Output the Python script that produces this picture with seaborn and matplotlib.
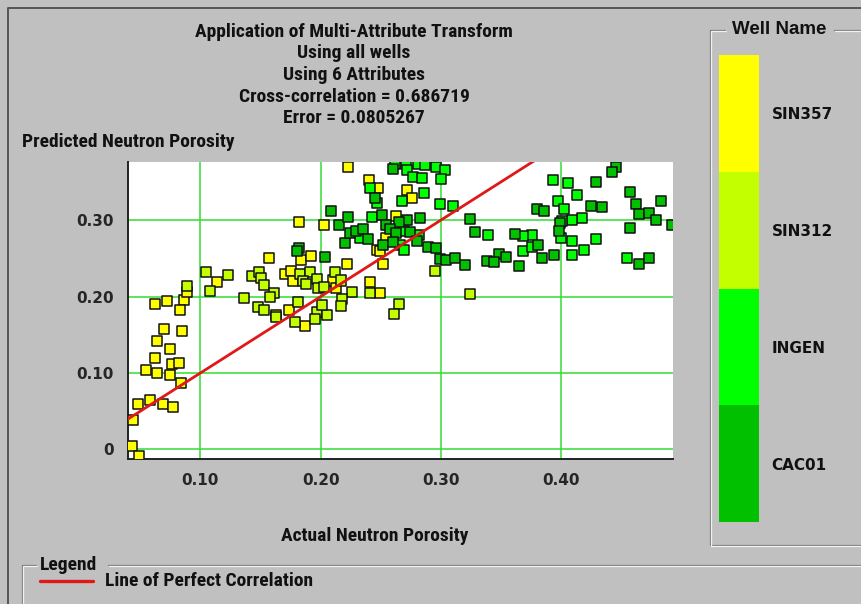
import matplotlib
matplotlib.use("Agg")
import matplotlib.pyplot as plt
from matplotlib import font_manager
from matplotlib.font_manager import FontProperties
from matplotlib.colors import ListedColormap
from matplotlib.lines import Line2D
from matplotlib.ticker import MultipleLocator, FixedLocator
import numpy as np
import pandas as pd
import seaborn as sns

# ---------------------------------------------------------------- data
well_names = ["SIN357", "SIN312", "INGEN", "CAC01"]
well_colors = ["#ffff00", "#c4ff00", "#00ff00", "#00c000"]

sin357_actual = [0.182, 0.184, 0.157, 0.114, 0.086, 0.072, 0.062, 0.083, 0.089, 0.163,
                 0.170, 0.175, 0.177, 0.174, 0.192, 0.187, 0.210, 0.213, 0.203, 0.222,
                 0.247, 0.241, 0.223, 0.240, 0.248, 0.272, 0.276, 0.263, 0.254, 0.249,
                 0.252, 0.249, 0.085, 0.070, 0.064, 0.062, 0.075, 0.076, 0.082, 0.055,
                 0.064, 0.075, 0.084, 0.048, 0.058, 0.069, 0.077, 0.044, 0.043, 0.049]
sin357_pred = [0.298, 0.248, 0.250, 0.219, 0.196, 0.194, 0.190, 0.183, 0.206, 0.176,
               0.230, 0.233, 0.220, 0.182, 0.253, 0.161, 0.221, 0.211, 0.294, 0.242,
               0.261, 0.219, 0.369, 0.353, 0.342, 0.340, 0.329, 0.306, 0.276, 0.259,
               0.242, 0.205, 0.155, 0.158, 0.142, 0.120, 0.131, 0.112, 0.113, 0.104,
               0.100, 0.098, 0.087, 0.059, 0.065, 0.059, 0.056, 0.039, 0.004, -0.009]

sin312_actual = [0.105, 0.123, 0.108, 0.136, 0.143, 0.149, 0.150, 0.153, 0.161, 0.158,
                 0.148, 0.153, 0.183, 0.191, 0.185, 0.188, 0.197, 0.198, 0.181, 0.197,
                 0.163, 0.179, 0.195, 0.203, 0.212, 0.217, 0.226, 0.218, 0.217, 0.205,
                 0.201, 0.241, 0.295, 0.324, 0.265, 0.261, 0.089]
sin312_pred = [0.232, 0.228, 0.207, 0.198, 0.227, 0.232, 0.224, 0.215, 0.205, 0.200,
               0.186, 0.183, 0.230, 0.232, 0.220, 0.217, 0.223, 0.211, 0.193, 0.180,
               0.173, 0.167, 0.171, 0.212, 0.232, 0.221, 0.206, 0.197, 0.187, 0.176,
               0.189, 0.204, 0.233, 0.203, 0.190, 0.177, 0.214]

ingen_actual = [0.243, 0.262, 0.271, 0.281, 0.287, 0.296, 0.303, 0.272, 0.277, 0.284,
                0.300, 0.241, 0.286, 0.247, 0.268, 0.299, 0.310, 0.233, 0.269, 0.282,
                0.266, 0.269, 0.339, 0.406, 0.393, 0.413, 0.397, 0.402, 0.417, 0.409,
                0.401, 0.400, 0.409, 0.429, 0.419, 0.409, 0.368, 0.376, 0.376, 0.368,
                0.455]
ingen_pred = [0.304, 0.374, 0.374, 0.374, 0.372, 0.369, 0.366, 0.366, 0.357, 0.355,
              0.354, 0.342, 0.336, 0.323, 0.325, 0.321, 0.319, 0.277, 0.286, 0.280,
              0.268, 0.261, 0.280, 0.348, 0.353, 0.333, 0.325, 0.315, 0.303, 0.300,
              0.299, 0.277, 0.273, 0.275, 0.261, 0.254, 0.260, 0.265, 0.281, 0.279,
              0.250]

cac01_actual = [0.182, 0.180, 0.204, 0.209, 0.215, 0.223, 0.220, 0.224, 0.229, 0.235,
                0.239, 0.260, 0.245, 0.251, 0.272, 0.265, 0.283, 0.254, 0.258, 0.263,
                0.274, 0.280, 0.289, 0.296, 0.252, 0.260, 0.324, 0.328, 0.348, 0.299,
                0.304, 0.312, 0.320, 0.338, 0.446, 0.442, 0.429, 0.380, 0.386, 0.425,
                0.434, 0.457, 0.462, 0.465, 0.473, 0.479, 0.483, 0.492, 0.457, 0.399,
                0.398, 0.394, 0.384, 0.381, 0.362, 0.365, 0.354, 0.344, 0.465, 0.473]
cac01_pred = [0.264, 0.260, 0.252, 0.312, 0.294, 0.304, 0.270, 0.283, 0.286, 0.288,
              0.275, 0.367, 0.329, 0.307, 0.300, 0.298, 0.303, 0.294, 0.288, 0.283,
              0.284, 0.273, 0.265, 0.263, 0.267, 0.271, 0.302, 0.284, 0.256, 0.249,
              0.248, 0.251, 0.241, 0.246, 0.369, 0.363, 0.350, 0.315, 0.312, 0.319,
              0.317, 0.337, 0.321, 0.308, 0.309, 0.300, 0.325, 0.294, 0.290, 0.296,
              0.286, 0.254, 0.250, 0.267, 0.282, 0.240, 0.252, 0.245, 0.242, 0.250]

perfect_line = [0.0, 0.5]

x_ticks = [0.10, 0.20, 0.30, 0.40]
x_tick_labels = ["0.10", "0.20", "0.30", "0.40"]
y_ticks = [0.0, 0.10, 0.20, 0.30]
y_tick_labels = ["0", "0.10", "0.20", "0.30"]

title_lines = ["Application of Multi-Attribute Transform",
               "Using all wells",
               "Using 6 Attributes",
               "Cross-correlation = 0.686719",
               "Error = 0.0805267"]
y_title = "Predicted Neutron Porosity"
x_title = "Actual Neutron Porosity"
legend_entry = "Line of Perfect Correlation"

# ---------------------------------------------------------------- fonts
sns.set_style("white")
plt.rcParams["font.family"] = ["DejaVu Sans"]


def _is_bold(entry):
    w = entry.weight
    if isinstance(w, str):
        return w in ("bold", "demibold", "semibold", "heavy", "extra bold", "black")
    return w >= 600


def narrow_bold_font():
    """Find a condensed bold face; prefer well-known families."""
    preferred = ["liberation sans narrow", "roboto condensed", "open sans condensed",
                 "noto sans condensed", "dejavu sans condensed", "dejavu sans"]
    found = []
    for f in font_manager.fontManager.ttflist:
        nm = f.name.lower()
        fn = f.fname.lower()
        narrow = ("narrow" in nm or "condensed" in nm or "condensed" in str(f.stretch)
                  or "condensed" in fn or "narrow" in fn)
        if narrow and _is_bold(f) and "italic" not in fn and "oblique" not in fn:
            found.append(f)
    if not found:
        return None
    def rank(f):
        nm = f.name.lower()
        for i, p in enumerate(preferred):
            if nm.startswith(p):
                return i
        return len(preferred)
    found.sort(key=rank)
    return found[0].fname


_narrow_path = narrow_bold_font()
if _narrow_path:
    NARROW = dict(fontproperties=FontProperties(fname=_narrow_path, size=14))
    NARROW_SIZE = 14
else:
    NARROW = dict(fontproperties=FontProperties(family="Liberation Sans",
                                                weight="bold", size=11.5))
    NARROW_SIZE = 11.5

BG = "#c0c0c0"
W, H = 862, 604


def fx(px):
    return px / W


def fy(py):
    return 1 - py / H


fig = plt.figure(figsize=(W / 100, H / 100), dpi=100, facecolor=BG)

# ---------------------------------------------------------------- scatter
df = pd.concat([
    pd.DataFrame({"actual": sin357_actual, "predicted": sin357_pred, "well": "SIN357"}),
    pd.DataFrame({"actual": sin312_actual, "predicted": sin312_pred, "well": "SIN312"}),
    pd.DataFrame({"actual": ingen_actual, "predicted": ingen_pred, "well": "INGEN"}),
    pd.DataFrame({"actual": cac01_actual, "predicted": cac01_pred, "well": "CAC01"}),
], ignore_index=True)

ax = fig.add_axes([fx(128), fy(459), fx(673) - fx(128), fy(162) - fy(459)])
ax.set_facecolor("white")
ax.set_xlim(0.0398, 0.493)
ax.set_ylim(-0.0125, 0.376)
ax.xaxis.set_major_locator(FixedLocator(x_ticks))
ax.yaxis.set_major_locator(FixedLocator(y_ticks))
ax.xaxis.set_minor_locator(MultipleLocator(0.02))
ax.yaxis.set_minor_locator(MultipleLocator(0.02))
ax.set_xticklabels(x_tick_labels, fontweight="bold", fontsize=11, family="DejaVu Sans")
ax.set_yticklabels(y_tick_labels, fontweight="bold", fontsize=11, family="DejaVu Sans")
ax.grid(True, which="major", color="#33dd33", linewidth=1.1, zorder=0)
ax.set_axisbelow(True)

sns.scatterplot(data=df, x="actual", y="predicted", hue="well",
                palette=dict(zip(well_names, well_colors)), marker="s", s=52,
                edgecolor="#111111", linewidth=1.1, legend=False, ax=ax,
                zorder=3, clip_on=True)
sns.lineplot(x=perfect_line, y=perfect_line, color="#e01818", linewidth=2.0,
             ax=ax, zorder=4)
ax.set_xlabel("")
ax.set_ylabel("")

for side in ("top", "right"):
    ax.spines[side].set_visible(False)
for side in ("left", "bottom"):
    ax.spines[side].set_color("#222222")
    ax.spines[side].set_linewidth(1.4)
ax.tick_params(axis="x", which="major", direction="out", length=6, width=1.2,
               color="#222222", pad=4)
ax.tick_params(axis="x", which="minor", direction="out", length=3, width=1.0,
               color="#222222")
ax.tick_params(axis="y", which="major", direction="out", length=8, width=1.2,
               color="#222222", pad=2)
ax.tick_params(axis="y", which="minor", direction="out", length=3.5, width=1.0,
               color="#222222")

# ---------------------------------------------------------------- texts
title_y = [32, 53, 75, 97, 118]
for line, py in zip(title_lines, title_y):
    fig.text(fx(354), fy(py), line, ha="center", va="center", color="#111111", **NARROW)
fig.text(fx(22), fy(142), y_title, ha="left", va="center", color="#111111", **NARROW)
fig.text(fx(375), fy(536), x_title, ha="center", va="center", color="#111111", **NARROW)

# ---------------------------------------------------------------- panel frames


def groove(xs, ys):
    fig.add_artist(Line2D([fx(v) for v in xs], [fy(v) for v in ys],
                          color="#7c7c7c", linewidth=0.9, transform=fig.transFigure))
    fig.add_artist(Line2D([fx(v + 1) for v in xs], [fy(v + 1) for v in ys],
                          color="#f2f2f2", linewidth=0.9, transform=fig.transFigure))


# outer window edge
fig.add_artist(Line2D([fx(8), fx(8), fx(862)], [fy(604), fy(8), fy(8)],
                      color="#555555", linewidth=1.4, transform=fig.transFigure))

# well-name panel
groove([725, 710, 710, 870], [30, 30, 545, 545])
groove([834, 870], [30, 30])
fig.text(fx(779), fy(30), "Well Name", ha="center", va="center", fontsize=13.5,
         fontweight="bold", color="#111111", family="Liberation Sans")

# legend panel
groove([36, 22, 22], [565, 565, 604])
groove([108, 870], [565, 565])
fig.text(fx(40), fy(565), "Legend", ha="left", va="center", color="#111111", **NARROW)
fig.add_artist(Line2D([fx(40), fx(93)], [fy(581), fy(581)], color="#e01818",
                      linewidth=2.4, transform=fig.transFigure))
fig.text(fx(105), fy(581), legend_entry, ha="left", va="center", color="#111111",
         **NARROW)

# ---------------------------------------------------------------- colour key
cax = fig.add_axes([fx(719), fy(522), fx(759) - fx(719), fy(55) - fy(522)])
key = pd.DataFrame({"code": list(range(len(well_names)))}, index=well_names)
sns.heatmap(key, cmap=ListedColormap(well_colors), vmin=-0.5,
            vmax=len(well_names) - 0.5, cbar=False, ax=cax,
            xticklabels=False, yticklabels=True, linewidths=0)
cax.yaxis.tick_right()
cax.tick_params(axis="y", length=0, pad=9)
for lbl in cax.get_yticklabels():
    lbl.set_rotation(0)
    lbl.set_fontweight("bold")
    lbl.set_fontsize(11)
    lbl.set_color("#111111")
    lbl.set_family("DejaVu Sans")
cax.set_xlabel("")
cax.set_ylabel("")

fig.savefig("out.png", dpi=100, facecolor=BG)
